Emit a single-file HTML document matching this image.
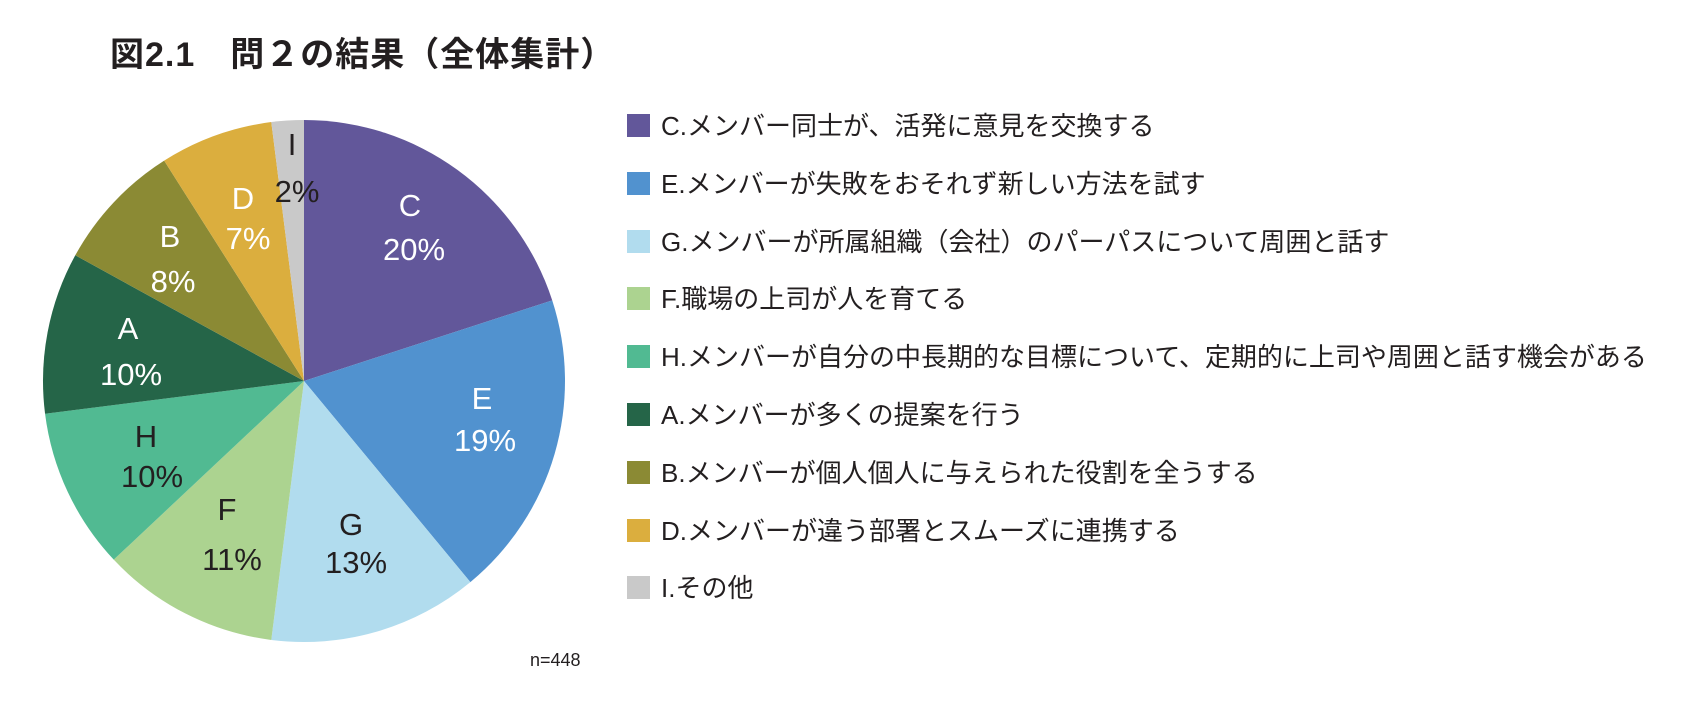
<!DOCTYPE html>
<html><head><meta charset="utf-8">
<style>
html,body{margin:0;padding:0;background:#fff;}
body{width:1686px;height:704px;position:relative;overflow:hidden;font-family:"Liberation Sans","Noto Sans CJK JP",sans-serif;color:#231f20;}
.t{position:absolute;left:110px;top:27px;font-size:34px;font-weight:bold;letter-spacing:1px;white-space:nowrap;}
.lg{position:absolute;left:627px;height:24px;white-space:nowrap;font-size:26px;line-height:24px;}
.lg i{display:inline-block;width:23px;height:23px;vertical-align:top;margin-right:11px;}
</style></head><body>
<div class="t">図2.1　問２の結果（全体集計）</div>
<svg id="s" width="1686" height="704" style="position:absolute;left:0;top:0"></svg>
<div id="leg"></div>
<div style="position:absolute;left:530px;top:650px;font-size:18px;">n=448</div>
<script>
var cx=304,cy=381,r=261;
var d=[["C",20,"#62579a"],["E",19,"#5192cf"],["G",13,"#b1dcee"],["F",11,"#acd390"],["H",10,"#51ba92"],["A",10,"#256548"],["B",8,"#8b8a34"],["D",7,"#dbae3e"],["I",2,"#c9c9c9"]];
var s="",a=0;
function pt(p){var t=p/100*2*Math.PI;return [cx+r*Math.sin(t),cy-r*Math.cos(t)];}
d.forEach(function(e){var p1=pt(a),p2=pt(a+e[1]);s+='<path d="M'+cx+' '+cy+'L'+p1[0]+' '+p1[1]+'A'+r+' '+r+' 0 '+(e[1]>50?1:0)+' 1 '+p2[0]+' '+p2[1]+'Z" fill="'+e[2]+'"/>';a+=e[1];});
var L=[["C","20%",410,205,414,249,"#fff"],["E","19%",482,398,485,440,"#fff"],["G","13%",351,524,356,562,"#231f20"],["F","11%",227,509,232,559,"#231f20"],["H","10%",146,436,152,476,"#231f20"],["A","10%",128,328,131,374,"#fff"],["B","8%",170,236,173,281,"#fff"],["D","7%",243,198,248,238,"#fff"],["I","2%",292,144,297,191,"#231f20"]];
L.forEach(function(l){s+='<text x="'+l[2]+'" y="'+(l[3]+11)+'" fill="'+l[6]+'" font-size="31" text-anchor="middle" font-family="Liberation Sans, sans-serif">'+l[0]+'</text><text x="'+l[4]+'" y="'+(l[5]+11)+'" fill="'+l[6]+'" font-size="31" text-anchor="middle" font-family="Liberation Sans, sans-serif">'+l[1]+'</text>';});
document.getElementById("s").innerHTML=s;
var T=["C.メンバー同士が、活発に意見を交換する","E.メンバーが失敗をおそれず新しい方法を試す","G.メンバーが所属組織（会社）のパーパスについて周囲と話す","F.職場の上司が人を育てる","H.メンバーが自分の中長期的な目標について、定期的に上司や周囲と話す機会がある","A.メンバーが多くの提案を行う","B.メンバーが個人個人に与えられた役割を全うする","D.メンバーが違う部署とスムーズに連携する","I.その他"];
var C=["#62579a","#5192cf","#b1dcee","#acd390","#51ba92","#256548","#8b8a34","#dbae3e","#c9c9c9"];
var h="";T.forEach(function(t,i){h+='<div class="lg" style="top:'+(114+i*57.8)+'px"><i style="background:'+C[i]+'"></i>'+t+'</div>';});
document.getElementById("leg").innerHTML=h;
</script>
</body></html>
